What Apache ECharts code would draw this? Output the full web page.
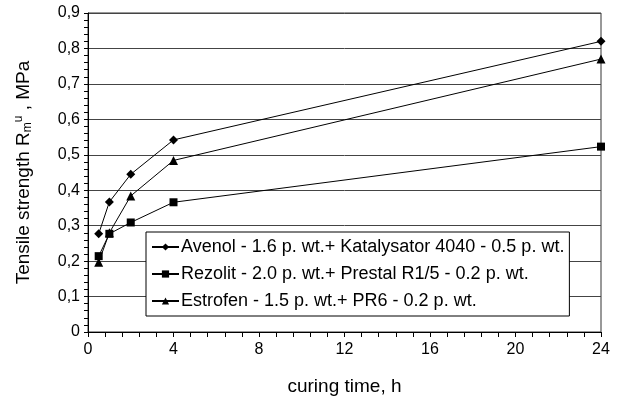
<!DOCTYPE html>
<html>
<head>
<meta charset="utf-8">
<script src="https://cdn.jsdelivr.net/npm/echarts@6/dist/echarts.min.js"></script>
<style>
  html, body { margin: 0; padding: 0; background: #fff; }
  #chart { width: 627px; height: 399px; }
</style>
</head>
<body>
<div id="chart"></div>
<script>
// Curing time (h) at which the samples were tested
const curingTime = [0.5, 1, 2, 4, 24];

// Tensile strength, MPa
const avenol   = [0.277, 0.367, 0.445, 0.542, 0.820];
const rezolit  = [0.214, 0.277, 0.309, 0.366, 0.523];
const estrofen = [0.197, 0.280, 0.384, 0.484, 0.770];

const seriesNames = [
  'Avenol - 1.6 p. wt.+ Katalysator 4040 - 0.5 p. wt.',
  'Rezolit - 2.0 p. wt.+ Prestal R1/5 - 0.2 p. wt.',
  'Estrofen - 1.5 p. wt.+ PR6 - 0.2 p. wt.'
];
const seriesValues = [avenol, rezolit, estrofen];
const symbols = ['diamond', 'rect', 'triangle'];
const symbolSizes = [9, 8, 9];

const FONT = 'Liberation Sans, Arial, sans-serif';

const chart = echarts.init(document.getElementById('chart'), null, { renderer: 'canvas' });

const series = seriesNames.map((name, i) => ({
  name: name,
  type: 'line',
  data: curingTime.map((t, j) => [t, seriesValues[i][j]]),
  symbol: symbols[i],
  symbolSize: symbolSizes[i],
  showSymbol: true,
  lineStyle: { color: '#000', width: 1 },
  itemStyle: { color: '#000' },
  emphasis: { disabled: true },
  animation: false
}));

chart.setOption({
  animation: false,
  grid: {
    left: 88, top: 13, right: 26, bottom: 67,
    outerBoundsMode: 'none',
    show: true, borderColor: '#333', borderWidth: 1, backgroundColor: 'transparent'
  },
  legend: {
    orient: 'vertical',
    left: 146, top: 232,
    backgroundColor: '#fff',
    borderColor: '#000', borderWidth: 1,
    padding: [6, 5, 6, 5],
    itemWidth: 27, itemHeight: 9, itemGap: 9,
    textStyle: { fontFamily: FONT, fontSize: 18, color: '#000', padding: [0, 0, 0, -3] },
    data: seriesNames
  },
  xAxis: {
    type: 'value',
    min: 0, max: 24, interval: 4,
    name: 'curing time, h',
    nameLocation: 'middle', nameGap: 45,
    nameTextStyle: { fontFamily: FONT, fontSize: 19, color: '#000' },
    axisLine: { lineStyle: { color: '#000', width: 1 } },
    axisTick: { show: true, length: 5, lineStyle: { color: '#000' } },
    minorTick: { show: true, splitNumber: 5, length: 5, lineStyle: { color: '#000' } },
    axisLabel: { fontFamily: FONT, fontSize: 16, color: '#000', margin: 10 },
    splitLine: { show: false }
  },
  yAxis: {
    type: 'value',
    min: 0, max: 0.9, interval: 0.1,
    name: '{n|Tensile strength R}{sub|m}{sup|u}{n| , MPa}',
    nameLocation: 'middle', nameGap: 54, nameRotate: 90,
    nameTextStyle: {
      fontFamily: FONT, fontSize: 19, color: '#000',
      rich: {
        n: { fontFamily: FONT, fontSize: 19, color: '#000' },
        sub: { fontFamily: FONT, fontSize: 12, color: '#000', verticalAlign: 'bottom', padding: [7, 0, 0, 0] },
        sup: { fontFamily: FONT, fontSize: 12, color: '#000', verticalAlign: 'top', padding: [0, 0, 9, 0] }
      }
    },
    axisLine: { show: true, lineStyle: { color: '#000', width: 1 } },
    axisTick: { show: true, length: 4, lineStyle: { color: '#000' } },
    minorTick: { show: true, splitNumber: 5, length: 4, lineStyle: { color: '#000' } },
    axisLabel: {
      fontFamily: FONT, fontSize: 16, color: '#000', margin: 8,
      formatter: v => (v === 0 ? '0' : v.toFixed(1).replace('.', ','))
    },
    splitLine: { show: true, lineStyle: { color: '#444', width: 1 } }
  },
  series: series
});
</script>
</body>
</html>
